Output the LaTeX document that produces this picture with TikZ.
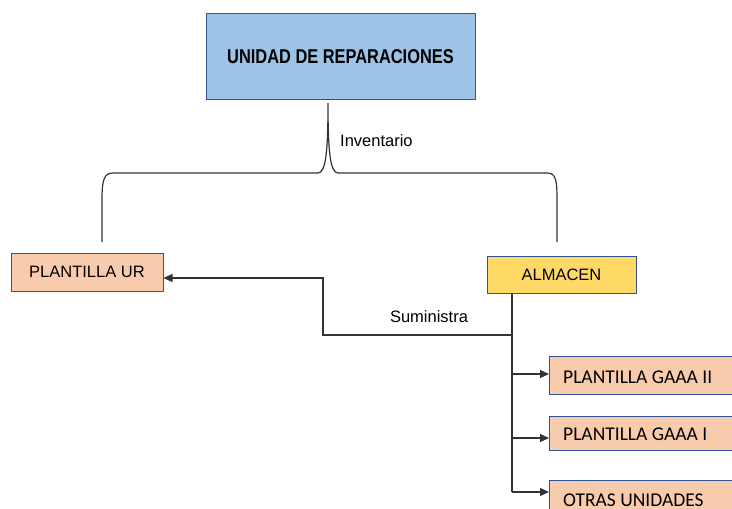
\documentclass[tikz,border=0pt]{standalone}
\usepackage{fontspec}
\usepackage{graphicx}
\setmainfont{Liberation Sans}
\newfontfamily\calib{Carlito}
\usetikzlibrary{arrows.meta}
\definecolor{topblue}{HTML}{9DC3E6}
\definecolor{peach}{HTML}{F8CBAD}
\definecolor{gold}{HTML}{FFD966}
\definecolor{bord}{HTML}{2F5597}
\definecolor{linec}{HTML}{333333}
\begin{document}
\begin{tikzpicture}[x=1pt,y=-1pt,
  box/.style={draw=bord,line width=1pt,inner sep=0pt,font=\fontsize{16.5}{18}\selectfont},
  rbox/.style={draw=bord,line width=1pt,fill=peach,anchor=north west,inner sep=0pt,
    minimum width=220pt},
  rtxt/.style={anchor=west,inner sep=0pt,font=\calib\fontsize{19.5}{22}\selectfont},
  conn/.style={draw=linec,line width=1.2pt},
  arr/.style={conn,-{Triangle[length=9pt,width=8pt]}},
  lab/.style={font=\fontsize{16.5}{18}\selectfont,inner sep=0pt}]
\useasboundingbox (0,0) rectangle (732,509);
\clip (0,0) rectangle (732,509);
\fill[white] (0,0) rectangle (732,509);

\node[box,fill=topblue,minimum width=269pt,minimum height=86pt] (ur) at (340.5,56.5)
  {\fontsize{20}{22}\selectfont\bfseries\scalebox{0.82}[1]{UNIDAD DE REPARACIONES}};
\node[box,fill=peach,minimum width=152pt,minimum height=38pt] (pur) at (87,272) {PLANTILLA UR};
\node[box,fill=gold,minimum width=149pt,minimum height=37pt] (alm) at (561.5,274.5) {ALMACEN};

\node[rbox,minimum height=38pt] (g2) at (549,356) {};
\node[rbox,minimum height=34pt] (g1) at (549,416) {};
\node[rbox,minimum height=40pt] (ou) at (549,480) {};
\node[rtxt] (g2t) at (563,377) {PLANTILLA GAAA II};
\node[rtxt] (g1t) at (563,434) {PLANTILLA GAAA I};
\node[rtxt] (out) at (563,500) {OTRAS UNIDADES};

% brace
\coordinate (tip) at (328,103);
\coordinate (bl) at (102,242);
\coordinate (br) at (557,242);
\draw[conn] (bl) -- (102,200) .. controls (102,180) and (104,173) .. (113,173)
  -- (318,173) .. controls (326,173) and (328,150) .. (tip)
  .. controls (328,150) and (330,173) .. (338,173)
  -- (547,173) .. controls (556,173) and (557,180) .. (557,200) -- (br);
\node[lab,anchor=west] (inv) at (340,141) {Inventario};

% almacen trunk
\coordinate (trunk) at (512,293);
\coordinate (t1) at (512,335);
\coordinate (tend) at (512,492);
\draw[conn] (trunk) -- (tend);
\draw[arr] (t1) -- (323,335) -- (323,278) -- (pur.east |- 0,278);
\node[lab] (sum) at (429,317) {Suministra};

\draw[arr] (512,374) -- (g2.west |- 0,374);
\draw[arr] (512,438) -- (g1.west |- 0,438);
\draw[arr] (tend) -- (ou.west |- 0,492);
\end{tikzpicture}
\end{document}
